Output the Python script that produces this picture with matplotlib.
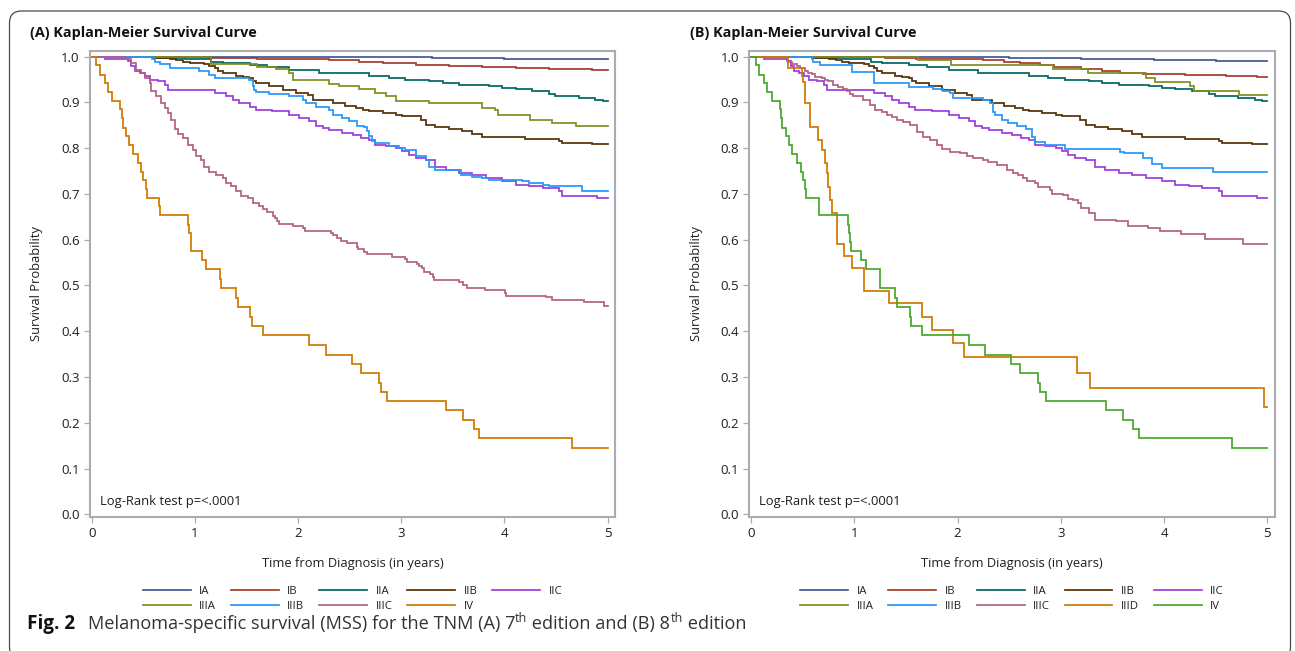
import matplotlib
matplotlib.use("Agg")
import matplotlib.pyplot as plt
from matplotlib.patches import FancyBboxPatch

# ---------------- data (time in years, survival probability) ----------------
# stages shared by both editions
iia_t = [0, 0.6, 0.9, 1.16, 1.27, 1.53, 1.7, 1.915, 2.2, 2.69, 2.88, 3.04, 3.27, 3.4, 3.56, 3.85,
         3.98, 4.11, 4.27, 4.43, 4.49, 4.72, 4.88, 4.95, 5.0]
iia_s = [1.0, 0.998, 0.995, 0.989, 0.986, 0.982, 0.977, 0.971, 0.964, 0.957, 0.953, 0.950, 0.946,
         0.943, 0.938, 0.935, 0.932, 0.929, 0.924, 0.919, 0.913, 0.910, 0.906, 0.903, 0.903]

iib_t = [0, 0.6, 0.754, 0.819, 0.883, 0.948, 1.093, 1.141, 1.19, 1.222, 1.27, 1.399, 1.465, 1.528,
         1.561, 1.593, 1.722, 1.851, 1.98, 2.092, 2.14, 2.334, 2.45, 2.56, 2.63, 2.69, 2.82, 2.95,
         3.01, 3.19, 3.24, 3.33, 3.46, 3.59, 3.69, 3.785, 4.2, 4.53, 4.56, 4.85, 5.0]
iib_s = [1.0, 0.998, 0.996, 0.993, 0.989, 0.987, 0.984, 0.979, 0.975, 0.968, 0.964, 0.958, 0.956,
         0.953, 0.946, 0.943, 0.935, 0.928, 0.921, 0.917, 0.906, 0.899, 0.893, 0.888, 0.884, 0.881,
         0.876, 0.873, 0.870, 0.862, 0.851, 0.846, 0.842, 0.837, 0.830, 0.824, 0.820, 0.815, 0.811,
         0.809, 0.809]

iic_t = [0, 0.126, 0.351, 0.384, 0.416, 0.464, 0.513, 0.561, 0.642, 0.706, 0.738, 1.19, 1.30, 1.37,
         1.43, 1.53, 1.59, 1.75, 1.915, 2.01, 2.11, 2.17, 2.24, 2.30, 2.43, 2.53, 2.61, 2.69, 2.75,
         2.85, 2.95, 3.01, 3.07, 3.14, 3.24, 3.33, 3.43, 3.56, 3.69, 3.82, 3.98, 4.11, 4.24, 4.37,
         4.53, 4.56, 4.90, 5.0]
iic_s = [1.0, 0.995, 0.990, 0.979, 0.968, 0.964, 0.958, 0.950, 0.946, 0.939, 0.928, 0.921, 0.913,
         0.906, 0.899, 0.891, 0.884, 0.881, 0.873, 0.866, 0.859, 0.848, 0.844, 0.840, 0.833, 0.829,
         0.822, 0.817, 0.808, 0.804, 0.800, 0.793, 0.786, 0.778, 0.775, 0.760, 0.753, 0.746, 0.742,
         0.735, 0.728, 0.720, 0.717, 0.713, 0.706, 0.695, 0.691, 0.691]

iv_t = [0, 0.045, 0.077, 0.126, 0.158, 0.2, 0.277, 0.29, 0.303, 0.335, 0.365, 0.40, 0.448, 0.48,
        0.50, 0.522, 0.535, 0.655, 0.66, 0.936, 0.945, 0.96, 0.964, 1.064, 1.112, 1.245, 1.25,
        1.398, 1.414, 1.538, 1.554, 1.659, 2.108, 2.269, 2.518, 2.606, 2.783, 2.803, 2.859, 3.434,
        3.602, 3.703, 3.755, 4.659, 5.0]
iv_s = [1.0, 0.981, 0.961, 0.943, 0.923, 0.904, 0.885, 0.865, 0.845, 0.826, 0.806, 0.787, 0.768,
        0.749, 0.731, 0.710, 0.692, 0.673, 0.653, 0.633, 0.614, 0.594, 0.575, 0.555, 0.535, 0.514,
        0.494, 0.473, 0.453, 0.432, 0.411, 0.391, 0.371, 0.349, 0.329, 0.308, 0.288, 0.268, 0.247,
        0.227, 0.206, 0.186, 0.166, 0.145, 0.145]

# 7th edition specific
ia7_t = [0, 1.5, 2.5, 3.3, 4.0, 4.6, 5.0]
ia7_s = [1.0, 0.9995, 0.999, 0.998, 0.996, 0.995, 0.994]

ib7_t = [0, 0.9, 1.14, 1.6, 2.0, 2.3, 2.59, 2.82, 3.14, 3.46, 3.785, 4.11, 4.43, 4.85, 5.0]
ib7_s = [1.0, 0.999, 0.998, 0.996, 0.994, 0.992, 0.989, 0.986, 0.982, 0.980, 0.977, 0.975, 0.973,
         0.970, 0.970]

iiia7_t = [0, 1.16, 1.60, 1.79, 1.915, 1.95, 2.30, 2.40, 2.59, 2.75, 2.85, 2.95, 3.27, 3.785, 3.91,
           3.94, 4.25, 4.46, 4.69, 5.0]
iiia7_s = [1.0, 0.985, 0.977, 0.973, 0.964, 0.948, 0.941, 0.937, 0.929, 0.921, 0.913, 0.904, 0.899,
           0.888, 0.884, 0.873, 0.862, 0.856, 0.849, 0.849]

iiib7_t = [0, 0.58, 0.61, 0.658, 0.754, 1.044, 1.141, 1.19, 1.528, 1.561, 1.577, 1.593, 1.722,
           1.915, 2.044, 2.076, 2.17, 2.30, 2.334, 2.43, 2.495, 2.575, 2.64, 2.67, 2.69, 2.72, 2.75,
           2.88, 2.98, 3.04, 3.14, 3.24, 3.27, 3.33, 3.575, 3.69, 3.785, 3.85, 4.17, 4.24, 4.37,
           4.43, 4.75, 5.0]
iiib7_s = [1.0, 0.995, 0.988, 0.983, 0.975, 0.968, 0.961, 0.953, 0.950, 0.935, 0.928, 0.922, 0.919,
           0.915, 0.906, 0.898, 0.891, 0.884, 0.873, 0.866, 0.859, 0.849, 0.846, 0.837, 0.826, 0.815,
           0.811, 0.804, 0.800, 0.797, 0.782, 0.775, 0.760, 0.753, 0.742, 0.738, 0.735, 0.731, 0.728,
           0.724, 0.720, 0.717, 0.706, 0.706]

iiic7_t = [0, 0.319, 0.384, 0.432, 0.48, 0.513, 0.561, 0.577, 0.625, 0.674, 0.706, 0.738, 0.77,
           0.803, 0.835, 0.883, 0.932, 0.98, 1.012, 1.06, 1.093, 1.141, 1.206, 1.27, 1.302, 1.35,
           1.399, 1.447, 1.512, 1.56, 1.625, 1.657, 1.70, 1.754, 1.776, 1.80, 1.818, 1.954, 2.044,
           2.067, 2.32, 2.342, 2.374, 2.42, 2.477, 2.567, 2.583, 2.638, 2.67, 2.913, 3.036, 3.052,
           3.149, 3.175, 3.197, 3.22, 3.278, 3.304, 3.317, 3.562, 3.601, 3.633, 3.81, 4.004, 4.014,
           4.401, 4.456, 4.769, 4.963, 5.0]
iiic7_s = [1.0, 0.996, 0.986, 0.971, 0.964, 0.953, 0.943, 0.924, 0.913, 0.899, 0.888, 0.877, 0.862,
           0.841, 0.830, 0.822, 0.808, 0.797, 0.782, 0.775, 0.760, 0.749, 0.742, 0.735, 0.724, 0.717,
           0.706, 0.695, 0.691, 0.680, 0.673, 0.667, 0.661, 0.652, 0.647, 0.642, 0.634, 0.630, 0.625,
           0.619, 0.615, 0.610, 0.603, 0.598, 0.592, 0.585, 0.580, 0.574, 0.569, 0.563, 0.557, 0.552,
           0.548, 0.543, 0.538, 0.530, 0.525, 0.518, 0.512, 0.508, 0.501, 0.495, 0.490, 0.483, 0.478,
           0.474, 0.468, 0.463, 0.455, 0.455]

# 8th edition specific
ia8_t = [0, 1.5, 2.5, 3.2, 3.9, 4.5, 5.0]
ia8_s = [1.0, 0.9995, 0.997, 0.995, 0.993, 0.991, 0.990]

ib8_t = [0, 0.96, 1.3, 1.6, 2.0, 2.25, 2.45, 2.6, 2.8, 2.93, 3.2, 3.4, 3.57, 3.8, 4.2, 4.6, 4.9, 5.0]
ib8_s = [1.0, 0.999, 0.997, 0.996, 0.994, 0.992, 0.989, 0.986, 0.982, 0.977, 0.972, 0.968, 0.965,
         0.962, 0.960, 0.958, 0.955, 0.955]

iiia8_t = [0, 1.62, 1.94, 2.927, 3.267, 3.826, 3.913, 4.252, 4.291, 4.73, 5.0]
iiia8_s = [1.0, 0.993, 0.982, 0.972, 0.964, 0.954, 0.944, 0.936, 0.926, 0.917, 0.917]

iiib8_t = [0, 0.588, 0.603, 0.668, 0.975, 1.191, 1.533, 1.759, 1.862, 1.927, 1.96, 2.25, 2.314,
           2.34, 2.363, 2.427, 2.492, 2.572, 2.663, 2.718, 2.75, 2.847, 3.04, 3.573, 3.61, 3.799,
           3.88, 3.977, 4.477, 5.0]
iiib8_s = [1.0, 0.995, 0.989, 0.982, 0.967, 0.942, 0.934, 0.929, 0.924, 0.920, 0.909, 0.905, 0.898,
           0.880, 0.873, 0.862, 0.856, 0.849, 0.841, 0.824, 0.814, 0.807, 0.798, 0.791, 0.789, 0.778,
           0.765, 0.757, 0.747, 0.747]

iiic8_t = [0, 0.18, 0.362, 0.394, 0.442, 0.474, 0.523, 0.555, 0.588, 0.62, 0.684, 0.717, 0.749,
           0.797, 0.846, 0.894, 0.926, 0.959, 0.991, 1.088, 1.152, 1.2, 1.265, 1.314, 1.362, 1.41,
           1.475, 1.54, 1.604, 1.669, 1.733, 1.798, 1.846, 1.927, 2.024, 2.089, 2.153, 2.25, 2.298,
           2.379, 2.476, 2.54, 2.589, 2.637, 2.67, 2.75, 2.78, 2.895, 2.91, 3.025, 3.073, 3.12, 3.17,
           3.2, 3.27, 3.33, 3.53, 3.65, 3.84, 3.96, 4.16, 4.40, 4.76, 5.0]
iiic8_s = [1.0, 0.998, 0.989, 0.984, 0.980, 0.975, 0.969, 0.965, 0.962, 0.956, 0.953, 0.949, 0.946,
           0.938, 0.933, 0.929, 0.924, 0.919, 0.913, 0.905, 0.894, 0.883, 0.880, 0.872, 0.869, 0.861,
           0.858, 0.851, 0.836, 0.824, 0.817, 0.807, 0.798, 0.792, 0.789, 0.783, 0.778, 0.774, 0.770,
           0.763, 0.752, 0.745, 0.742, 0.734, 0.729, 0.723, 0.716, 0.709, 0.700, 0.698, 0.690, 0.687,
           0.680, 0.669, 0.659, 0.644, 0.641, 0.630, 0.626, 0.619, 0.612, 0.602, 0.590, 0.590]

iiid8_t = [0, 0.36, 0.49, 0.507, 0.523, 0.571, 0.652, 0.684, 0.717, 0.733, 0.745, 0.765, 0.785,
           0.837, 0.896, 0.976, 1.096, 1.335, 1.653, 1.753, 1.96, 2.064, 3.155, 3.287, 4.968, 5.0]
iiid8_s = [1.0, 0.975, 0.958, 0.945, 0.898, 0.846, 0.819, 0.796, 0.768, 0.745, 0.716, 0.687, 0.659,
           0.590, 0.564, 0.539, 0.488, 0.461, 0.432, 0.402, 0.375, 0.344, 0.309, 0.275, 0.235, 0.235]

labels7 = ["IA", "IB", "IIA", "IIB", "IIC", "IIIA", "IIIB", "IIIC", "IV"]
labels8 = ["IA", "IB", "IIA", "IIB", "IIC", "IIIA", "IIIB", "IIIC", "IIID", "IV"]
colors7 = ["#445694", "#A23A2E", "#01665E", "#543005", "#9D3CDB", "#7F8E1F", "#2597FA",
           "#B26084", "#D17800"]
colors8 = ["#445694", "#A23A2E", "#01665E", "#543005", "#9D3CDB", "#7F8E1F", "#2597FA",
           "#B26084", "#D17800", "#47A82A"]
xticks = [0, 1, 2, 3, 4, 5]
yticks = [0.0, 0.1, 0.2, 0.3, 0.4, 0.5, 0.6, 0.7, 0.8, 0.9, 1.0]

series7 = [(ia7_t, ia7_s), (ib7_t, ib7_s), (iia_t, iia_s), (iib_t, iib_s), (iic_t, iic_s),
           (iiia7_t, iiia7_s), (iiib7_t, iiib7_s), (iiic7_t, iiic7_s), (iv_t, iv_s)]
series8 = [(ia8_t, ia8_s), (ib8_t, ib8_s), (iia_t, iia_s), (iib_t, iib_s), (iic_t, iic_s),
           (iiia8_t, iiia8_s), (iiib8_t, iiib8_s), (iiic8_t, iiic8_s), (iiid8_t, iiid8_s),
           (iv_t, iv_s)]

# ---------------- figure ----------------
plt.rcParams["font.family"] = ["Open Sans", "DejaVu Sans"]
W, H = 1295, 651
fig = plt.figure(figsize=(W / 100, H / 100), dpi=100)
fig.patch.set_facecolor("white")

FRAME = "#a9adb1"
TXT = "#1e1e1e"


def px_rect(l, r, t, b):
    return [l / W, 1 - b / H, (r - l) / W, (b - t) / H]


def panel(rect, series, labels, colors, title, title_x):
    ax = fig.add_axes(rect)
    handles = []
    for (t, s), lab, c in zip(series, labels, colors):
        ln, = ax.step(t, s, where="post", color=c, lw=1.25, label=lab,
                      solid_joinstyle="miter")
        handles.append(ln)
    ax.set_xlim(-0.0165, 5.071)
    ax.set_ylim(-0.0048, 1.0135)
    ax.set_xticks(xticks)
    ax.set_xticklabels([str(v) for v in xticks])
    ax.set_yticks(yticks)
    ax.set_yticklabels([f"{v:.1f}" for v in yticks])
    for sp in ax.spines.values():
        sp.set_color(FRAME)
        sp.set_linewidth(1.5)
    ax.tick_params(direction="out", length=4.0, width=0.9, color=FRAME,
                   labelcolor=TXT, labelsize=9.5, pad=3.5)
    ax.set_xlabel("Time from Diagnosis (in years)", fontsize=9.3, color=TXT, va="center")
    ax.xaxis.set_label_coords(0.5, (516.5 - 563.5) / 466)
    ax.set_ylabel("Survival Probability", fontsize=9.3, color=TXT, va="center")
    ax.yaxis.set_label_coords((37 - 90) / 525, 0.5)
    ax.text((100 - 90) / 525, (516.5 - 501.5) / 466, "Log-Rank test p=<.0001",
            transform=ax.transAxes, fontsize=9.4, color=TXT, ha="left", va="center")
    n = len(handles)
    ncol = 5
    order = []
    for c in range(ncol):
        for r in range(2):
            i = r * ncol + c
            if i < n:
                order.append(i)
    leg = ax.legend([handles[i] for i in order], [labels[i] for i in order], ncol=ncol,
                    loc="center", bbox_to_anchor=(0.5, (516.5 - 599) / 466), frameon=False,
                    fontsize=8.2, handlelength=4.2, handletextpad=0.74, columnspacing=1.3,
                    labelspacing=0.3, borderaxespad=0, borderpad=0)
    for tx in leg.get_texts():
        tx.set_color(TXT)
    fig.text(title_x / W, 1 - 33 / H, title, fontsize=10.4, fontweight="bold",
             color="#111111", ha="left", va="center")
    return ax


panel(px_rect(90, 615, 50.5, 516.5), series7, labels7, colors7,
      "(A) Kaplan-Meier Survival Curve", 30)
panel(px_rect(749.3, 1274.7, 50.5, 516.5), series8, labels8, colors8,
      "(B) Kaplan-Meier Survival Curve", 690)

# rounded outer border
border = FancyBboxPatch((0.095, -0.08), 12.81, 6.48, boxstyle="round,pad=0,rounding_size=0.12",
                        transform=fig.dpi_scale_trans, fill=False, edgecolor="#4a4a4a",
                        linewidth=0.9, clip_on=False)
fig.add_artist(border)

# caption with superscripts
renderer = fig.canvas.get_renderer()
base_y = 1 - 629 / H
sup_y = 1 - 621.5 / H
pieces = [
    ("Fig. 2", "bold", 13.6, base_y, "#111111", 26.7),
    ("Melanoma-specific survival (MSS) for the TNM (A) 7", "normal", 13.1, base_y, "#333333", 87.7),
    ("th", "normal", 9.0, sup_y, "#333333", None),
    (" edition and (B) 8", "normal", 13.1, base_y, "#333333", None),
    ("th", "normal", 9.0, sup_y, "#333333", None),
    (" edition", "normal", 13.1, base_y, "#333333", None),
]
x_cur = 0
for s, wgt, fs, yy, col, xfix in pieces:
    if xfix is not None:
        x_cur = xfix
    t = fig.text(x_cur / W, yy, s, fontsize=fs, fontweight=wgt, color=col,
                 ha="left", va="baseline")
    bb = t.get_window_extent(renderer)
    x_cur = bb.x1

fig.savefig("out.png", dpi=100, facecolor="white")
